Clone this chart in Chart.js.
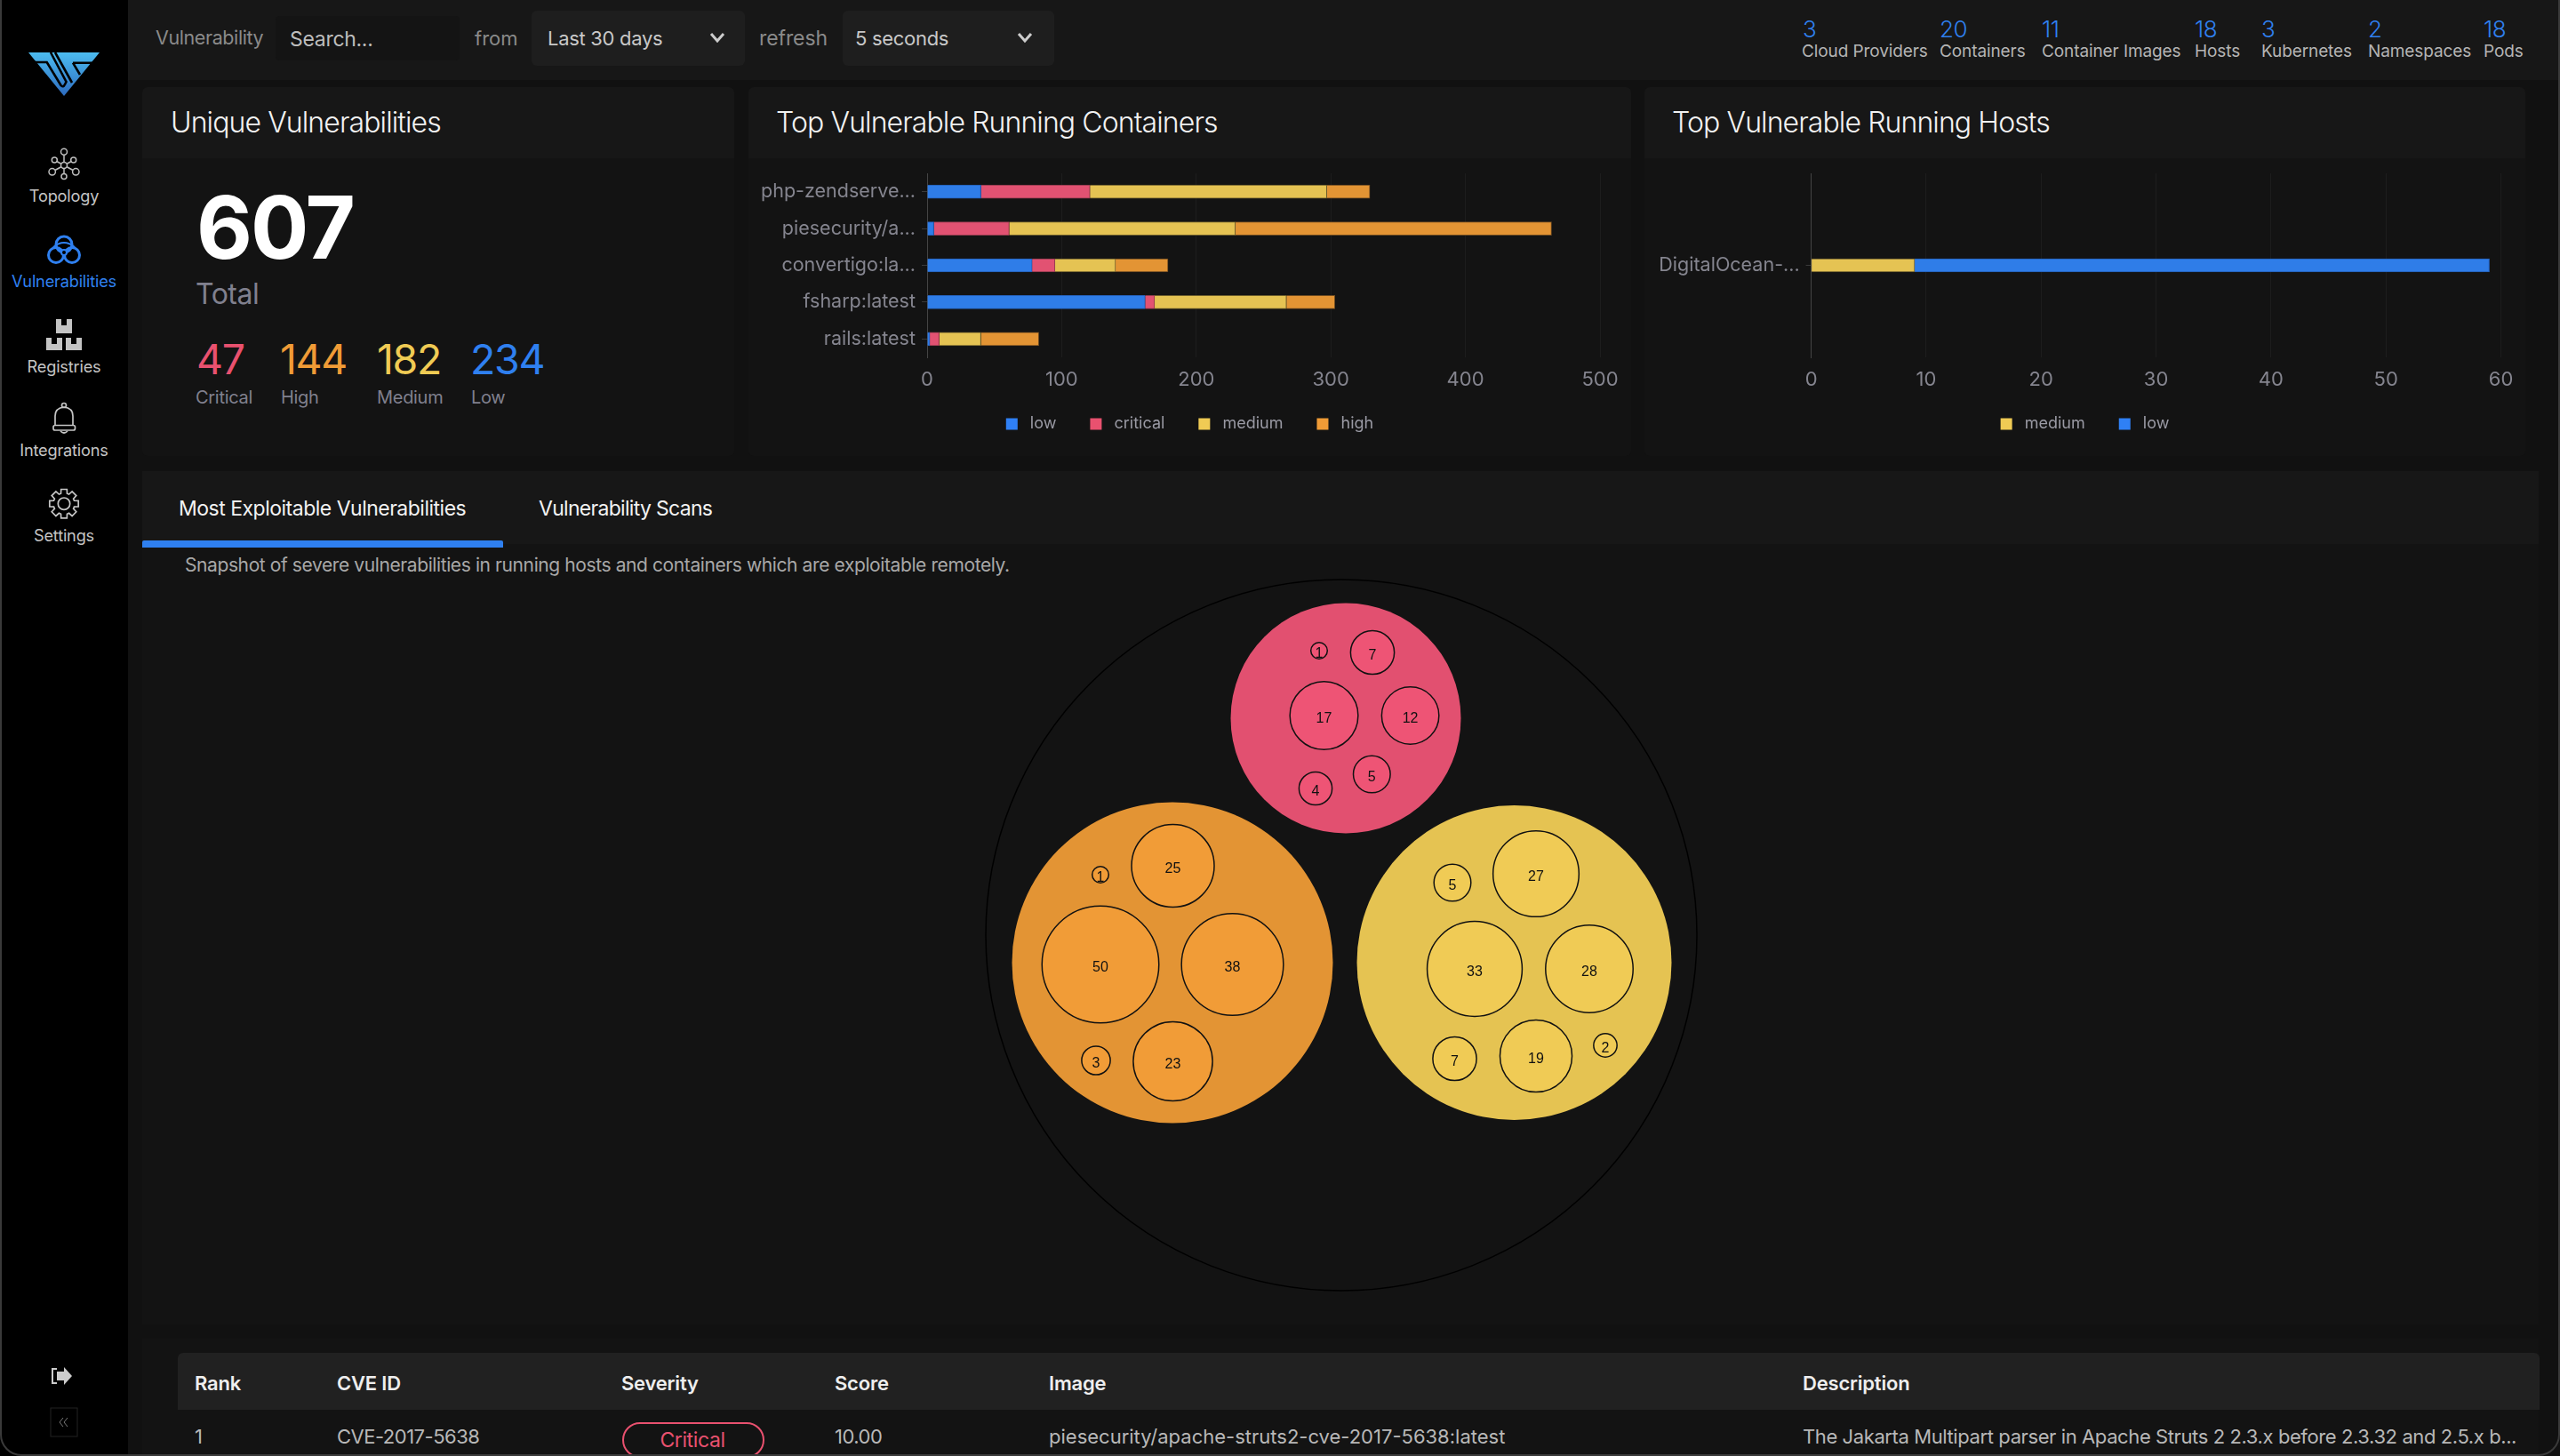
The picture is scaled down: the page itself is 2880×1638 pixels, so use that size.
<!DOCTYPE html>
<html>
<head>
<meta charset="utf-8">
<title>Vulnerabilities</title>
<script src="https://cdn.jsdelivr.net/npm/chart.js@4"></script>
<style>
  html, body { margin: 0; padding: 0; width: 2880px; height: 1638px; overflow: hidden; background: #111; font-family: Inter, sans-serif; }
  .box { position: absolute; }
  .t { position: absolute; white-space: nowrap; transform: translateY(-50%); line-height: 1; }
  canvas { position: absolute; }
  .side { color: #c4c4c4; font-size: 18.2px; left: 0; width: 144px; text-align: center; letter-spacing: -0.2px; }
  .num { color: #2f80f0; font-size: 26px; font-weight: 300; letter-spacing: -0.5px; }
  .lbl { color: #b4b4b4; font-size: 19px; letter-spacing: -0.1px; }
  .title { color: #f2f2f2; font-size: 32px; font-weight: 300; letter-spacing: -0.9px; top: 138px; }
  .sev { font-size: 46.5px; top: 404px; letter-spacing: -1.3px; }
  .sevl { font-size: 20px; top: 447px; color: #80808e; letter-spacing: -0.3px; }
  .th { color: #eee; font-size: 22px; font-weight: 600; top: 1556px; letter-spacing: -0.2px; }
  .td { color: #b8b8b8; font-size: 22px; top: 1616px; letter-spacing: -0.5px; }
</style>
</head>
<body>
<!-- sidebar -->
<div class="box" style="left:0;top:0;width:144px;height:1638px;background:#000"></div>
<svg class="box" style="left:0;top:0" width="144" height="640" fill="none">
  <defs><linearGradient id="logo" x1="0" y1="59" x2="0" y2="108" gradientUnits="userSpaceOnUse">
    <stop offset="0" stop-color="#4cbcf0"/><stop offset="1" stop-color="#2d6cc0"/></linearGradient></defs>
  <polygon points="32,59 112,59 72,108" fill="url(#logo)"/>
  <path d="M38.7 70 H52.7 L68.5 96 Q71 99 73 95 L74.5 92 L57 59 M62 59 L81 93 M82 70.7 H104 M82 70.7 L90 84" stroke="#000" stroke-width="2.6"/>
  <g stroke="#bdbdbd" stroke-width="1.5">
    <path d="M72 174 V196 M61 180 L83 192 M83 180 L61 192 M72 186 L59 193 M72 186 L85 193"/>
    <circle cx="72" cy="186" r="3.5" fill="#000"/><circle cx="72" cy="170.7" r="3.5" fill="#000"/><circle cx="72" cy="198.5" r="3" fill="#000"/>
    <circle cx="61.3" cy="180" r="3" fill="#000"/><circle cx="82.7" cy="180" r="3" fill="#000"/>
    <circle cx="58.7" cy="193.3" r="3.7" fill="#000"/><circle cx="85.3" cy="193.3" r="3.7" fill="#000"/>
  </g>
  <g stroke="#2f80f0" stroke-width="3">
    <circle cx="72" cy="275" r="9"/><circle cx="63" cy="287" r="8.5"/><circle cx="81" cy="287" r="8.5"/>
    <circle cx="72" cy="284" r="3" fill="#000" stroke-width="2"/>
    <path d="M60 278 Q72 268 84 278" stroke-width="2"/>
  </g>
  <g fill="#c4c4c4">
    <path d="M63 359 H69 V366 H75 V359 H81 V375 H63 Z"/>
    <path d="M52 380 H58 V387 H64 V380 H70 V394 H52 Z"/>
    <path d="M74 380 H80 V387 H86 V380 H92 V394 H74 Z"/>
  </g>
  <g stroke="#c4c4c4" stroke-width="1.7">
    <path d="M62 478 V468 Q62 459 72 458 Q82 459 82 468 V478"/>
    <rect x="60" y="478.5" width="24.5" height="5.5" rx="2"/>
    <circle cx="72" cy="456" r="2.5"/>
    <path d="M68 485 Q72 489 76 485"/>
    <circle cx="72" cy="566.7" r="6.7"/>
    <path id="gear"/>
  </g>
</svg>
<div class="t side" style="top:220px">Topology</div>
<div class="t side" style="top:316px;color:#2f80f0">Vulnerabilities</div>
<div class="t side" style="top:412px">Registries</div>
<div class="t side" style="top:506px">Integrations</div>
<div class="t side" style="top:602px">Settings</div>
<svg class="box" style="left:56px;top:1535px" width="32" height="84" fill="none">
  <path d="M8 5 H3 V21 H8" stroke="#ccc" stroke-width="2"/>
  <path d="M8 8 H16 V3 L25 13 L16 23 V18 H8 Z" fill="#ccc"/>
  <rect x="1" y="49" width="30" height="32" stroke="#222" stroke-width="1"/>
  <path d="M15 60 L11 65 L15 70 M20 60 L16 65 L20 70" stroke="#777" stroke-width="1"/>
</svg>

<!-- top bar -->
<div class="box" style="left:144px;top:0;width:2736px;height:90px;background:#171717"></div>
<div class="t" style="left:175px;top:43px;font-size:21.5px;color:#8a8a8a;letter-spacing:-0.4px">Vulnerability</div>
<div class="box" style="left:310px;top:18px;width:207px;height:50px;background:#141414;border-radius:4px"></div>
<div class="t" style="left:326px;top:44px;font-size:23px;color:#bdbdbd;letter-spacing:-0.3px">Search...</div>
<div class="t" style="left:534px;top:43px;font-size:22px;color:#8a8a8a">from</div>
<div class="box" style="left:598px;top:12px;width:240px;height:62px;background:#1e1e1e;border-radius:6px"></div>
<div class="t" style="left:616px;top:43px;font-size:22px;color:#c8c8c8;letter-spacing:-0.3px">Last 30 days</div>
<div class="t" style="left:854px;top:43px;font-size:23px;color:#8a8a8a;letter-spacing:-0.1px">refresh</div>
<div class="box" style="left:948px;top:12px;width:238px;height:62px;background:#1e1e1e;border-radius:6px"></div>
<div class="t" style="left:962px;top:43px;font-size:22px;color:#c8c8c8;letter-spacing:-0.3px">5 seconds</div>
<svg class="box" style="left:0;top:0" width="1200" height="90" fill="none" stroke="#ccc" stroke-width="3">
  <path d="M800 38 L807 46 L814 38 M1146 38 L1153 46 L1160 38"/>
</svg>

<div class="t num" style="left:2028px;top:33px">3</div><div class="t lbl" style="left:2027px;top:57px">Cloud Providers</div>
<div class="t num" style="left:2182px;top:33px">20</div><div class="t lbl" style="left:2182px;top:57px">Containers</div>
<div class="t num" style="left:2297px;top:33px">11</div><div class="t lbl" style="left:2297px;top:57px">Container Images</div>
<div class="t num" style="left:2469px;top:33px">18</div><div class="t lbl" style="left:2469px;top:57px">Hosts</div>
<div class="t num" style="left:2544px;top:33px">3</div><div class="t lbl" style="left:2544px;top:57px">Kubernetes</div>
<div class="t num" style="left:2664px;top:33px">2</div><div class="t lbl" style="left:2664px;top:57px">Namespaces</div>
<div class="t num" style="left:2794px;top:33px">18</div><div class="t lbl" style="left:2794px;top:57px">Pods</div>

<!-- cards -->
<div class="box" style="left:160px;top:98px;width:666px;height:415px;background:#131313;border-radius:6px"></div>
<div class="box" style="left:160px;top:98px;width:666px;height:80px;background:#171717;border-radius:6px 6px 0 0"></div>
<div class="box" style="left:842px;top:98px;width:993px;height:415px;background:#131313;border-radius:6px"></div>
<div class="box" style="left:842px;top:98px;width:993px;height:80px;background:#171717;border-radius:6px 6px 0 0"></div>
<div class="box" style="left:1850px;top:98px;width:991px;height:415px;background:#131313;border-radius:6px"></div>
<div class="box" style="left:1850px;top:98px;width:991px;height:80px;background:#171717;border-radius:6px 6px 0 0"></div>
<div class="t title" style="left:192px">Unique Vulnerabilities</div>
<div class="t title" style="left:873px">Top Vulnerable Running Containers</div>
<div class="t title" style="left:1881px">Top Vulnerable Running Hosts</div>

<div class="t" style="left:221px;top:255px;font-size:97px;font-weight:700;color:#fff;letter-spacing:-2px">607</div>
<div class="t" style="left:220px;top:331px;font-size:32px;color:#80808e;letter-spacing:-0.5px">Total</div>
<div class="t sev" style="left:221px;color:#e9516f">47</div><div class="t sevl" style="left:220px">Critical</div>
<div class="t sev" style="left:315px;color:#f09b36">144</div><div class="t sevl" style="left:316px">High</div>
<div class="t sev" style="left:424px;color:#f0cb54">182</div><div class="t sevl" style="left:424px">Medium</div>
<div class="t sev" style="left:529px;color:#2f80f0">234</div><div class="t sevl" style="left:530px">Low</div>

<canvas id="containersChart" width="993" height="335" style="left:842px;top:178px"></canvas>
<canvas id="hostsChart" width="991" height="335" style="left:1850px;top:178px"></canvas>

<!-- tabs panel -->
<div class="box" style="left:160px;top:530px;width:2696px;height:960px;background:#131313"></div>
<div class="box" style="left:160px;top:530px;width:2696px;height:82px;background:#171717"></div>
<div class="box" style="left:160px;top:608px;width:406px;height:8px;background:#2f80f0;border-radius:2px 2px 0 0"></div>
<div class="t" style="left:201px;top:572px;font-size:23px;color:#f2f2f2;letter-spacing:-0.5px">Most Exploitable Vulnerabilities</div>
<div class="t" style="left:606px;top:572px;font-size:23px;color:#f2f2f2;letter-spacing:-0.7px">Vulnerability Scans</div>
<div class="t" style="left:208px;top:635px;font-size:21px;color:#a8a8a8;letter-spacing:-0.4px">Snapshot of severe vulnerabilities in running hosts and containers which are exploitable remotely.</div>
<canvas id="bubbleChart" width="860" height="840" style="left:1079px;top:632px"></canvas>

<!-- table -->
<div class="box" style="left:160px;top:1506px;width:2696px;height:132px;background:#131313"></div>
<div class="box" style="left:200px;top:1522px;width:2657px;height:64px;background:#212121;border-radius:6px 6px 0 0"></div>
<div class="t th" style="left:219px">Rank</div>
<div class="t th" style="left:379px">CVE ID</div>
<div class="t th" style="left:699px">Severity</div>
<div class="t th" style="left:939px">Score</div>
<div class="t th" style="left:1180px">Image</div>
<div class="t th" style="left:2028px">Description</div>
<div class="t td" style="left:219px">1</div>
<div class="t td" style="left:379px">CVE-2017-5638</div>
<div class="box" style="left:700px;top:1600px;width:160px;height:40px;border:2px solid #e9516f;border-radius:21px;box-sizing:border-box"></div>
<div class="t" style="left:779px;top:1620px;font-size:23px;color:#e9516f;transform:translate(-50%,-50%);letter-spacing:-0.4px">Critical</div>
<div class="t td" style="left:939px">10.00</div>
<div class="t td" style="left:1180px;letter-spacing:0">piesecurity/apache-struts2-cve-2017-5638:latest</div>
<div class="t td" style="left:2028px;letter-spacing:-0.4px">The Jakarta Multipart parser in Apache Struts 2 2.3.x before 2.3.32 and 2.5.x b...</div>

<!-- window frame -->
<div class="box" style="left:0;top:-30px;width:2880px;height:1668px;box-sizing:border-box;border:2px solid #3a3a3a;border-radius:24px;pointer-events:none"></div>

<script>
// Top Vulnerable Running Containers
const containerLabels = ['php-zendserve...', 'piesecurity/a...', 'convertigo:la...', 'fsharp:latest', 'rails:latest'];
const containerLow = [40, 5, 78, 162, 2];
const containerCritical = [81, 56, 17, 7, 7];
const containerMedium = [176, 168, 45, 98, 31];
const containerHigh = [32, 235, 39, 36, 43];
const containerTicks = [0, 100, 200, 300, 400, 500];

// Top Vulnerable Running Hosts
const hostLabels = ['DigitalOcean-...'];
const hostMedium = [9];
const hostLow = [50];
const hostTicks = [0, 10, 20, 30, 40, 50, 60];

// Most exploitable vulnerabilities, packed around the centre of the big ring
const severityX = [5, -190, 194.5];
const severityY = [-244, 31, 31];
const severityR = [129.5, 180.5, 177];
const criticalValues = [1, 7, 17, 12, 5, 4];
const criticalX = [-25, 35, -19.5, 77.6, 34.3, -29];
const criticalY = [-320, -318, -247, -247, -181, -165];
const highValues = [1, 25, 50, 38, 3, 23];
const highX = [-271, -189.5, -271, -122.5, -276, -189.5];
const highY = [-68, -78, 33, 33, 141, 142];
const mediumValues = [5, 27, 33, 28, 7, 19, 2];
const mediumX = [125, 219, 150, 279, 127.5, 219, 297];
const mediumY = [-59, -69, 38, 38, 139, 136, 124];

const COLORS = {
    low: { bar: '#2f7de8', edge: '#2560b8', key: '#2f80f5' },
    critical: { bar: '#e25272', edge: '#8f3a4c', key: '#e9516f' },
    medium: { bar: '#e5c353', edge: '#6e5f2c', key: '#f0cb54' },
    high: { bar: '#e39434', edge: '#6e4a20', key: '#f09b36' }
};
const TICK_COLOR = '#85858f';

// gear outline for the settings icon
(function() {
    const pts = [];
    for (let i = 0; i < 8; i++) {
        const a = i * Math.PI / 4;
        [[-0.3, 12], [-0.2, 16.5], [0.2, 16.5], [0.3, 12]].forEach(p => {
            pts.push((72 + p[1] * Math.cos(a + p[0])).toFixed(1) + ' ' + (566.7 + p[1] * Math.sin(a + p[0])).toFixed(1));
        });
    }
    document.getElementById('gear').setAttribute('d', 'M' + pts.join(' L') + ' Z');
})();

function barDataset(name, values) {
    return {
        label: name,
        data: values,
        backgroundColor: COLORS[name].bar,
        borderColor: COLORS[name].edge,
        borderWidth: 1,
        barThickness: 15
    };
}

// puts the legend back under the plot: padding would otherwise push it off-centre and low
const legendPlace = {
    id: 'legendPlace',
    afterLayout(chart) {
        const shift = chart.options.layout.padding.right / 2;
        chart.legend.left += shift;
        chart.legend.right += shift;
        chart.legend.top -= 10;
        chart.legend.bottom -= 10;
    }
};

function stackedBars(id, labels, datasets, ticks, yWidth, rightPad) {
    return new Chart(document.getElementById(id), {
        type: 'bar',
        data: { labels: labels, datasets: datasets },
        plugins: [legendPlace],
        options: {
            indexAxis: 'y',
            responsive: false,
            animation: false,
            layout: { autoPadding: false, padding: { top: 17, right: rightPad, bottom: 7 } },
            plugins: {
                tooltip: { enabled: false },
                legend: {
                    position: 'bottom',
                    labels: {
                        color: '#9a9aa4',
                        font: { family: 'Inter', size: 18 },
                        boxWidth: 13,
                        boxHeight: 13,
                        padding: 38,
                        generateLabels: function(chart) {
                            return chart.data.datasets.map((ds, i) => ({
                                text: ' ' + ds.label,
                                fontColor: '#9a9aa4',
                                fillStyle: COLORS[ds.label].key,
                                strokeStyle: 'transparent',
                                lineWidth: 0,
                                datasetIndex: i
                            }));
                        }
                    }
                }
            },
            scales: {
                x: {
                    stacked: true,
                    min: ticks[0],
                    max: ticks[ticks.length - 1],
                    afterBuildTicks: function(scale) {
                        scale.ticks = ticks.map(v => ({ value: v }));
                    },
                    afterFit: function(scale) { scale.height = 38; },
                    grid: { color: '#1d1d1d', drawTicks: false },
                    border: { display: false },
                    ticks: { color: TICK_COLOR, padding: 12, maxRotation: 0, font: { family: 'Inter', size: 22 } }
                },
                y: {
                    stacked: true,
                    afterFit: function(scale) {
                        scale.width = yWidth;
                        scale.paddingTop = 0;
                        scale.paddingBottom = 0;
                    },
                    grid: { drawOnChartArea: false, offset: false, tickColor: '#3a3a3a', tickLength: 6 },
                    border: { color: '#444' },
                    ticks: { color: TICK_COLOR, padding: 7, font: { family: 'Inter', size: 21.5 } }
                }
            }
        }
    });
}

stackedBars('containersChart', containerLabels, [
    barDataset('low', containerLow),
    barDataset('critical', containerCritical),
    barDataset('medium', containerMedium),
    barDataset('high', containerHigh)
], containerTicks, 201, 35);

stackedBars('hostsChart', hostLabels, [
    barDataset('medium', hostMedium),
    barDataset('low', hostLow)
], hostTicks, 187.6, 27.5);

// bubble area follows the value
const BUBBLE_K = 9.3;
function innerBubbles(values, xs, ys, fill) {
    return {
        data: values.map((v, i) => ({ x: xs[i], y: ys[i], r: BUBBLE_K * Math.sqrt(v), value: v })),
        backgroundColor: fill,
        borderColor: '#111',
        borderWidth: 1.5
    };
}

const bubbleLabels = {
    id: 'bubbleLabels',
    afterDatasetsDraw(chart) {
        const ctx = chart.ctx;
        ctx.save();
        ctx.font = "16px 'Liberation Sans'";
        ctx.fillStyle = '#111';
        ctx.textAlign = 'center';
        ctx.textBaseline = 'middle';
        chart.data.datasets.forEach((ds, i) => {
            chart.getDatasetMeta(i).data.forEach((el, j) => {
                const v = ds.data[j].value;
                if (v !== undefined) ctx.fillText(v, el.x, el.y + 4);
            });
        });
        ctx.restore();
    }
};

new Chart(document.getElementById('bubbleChart'), {
    type: 'bubble',
    data: {
        datasets: [
            innerBubbles(criticalValues, criticalX, criticalY, '#ee5475'),
            innerBubbles(highValues, highX, highY, '#f19c37'),
            innerBubbles(mediumValues, mediumX, mediumY, '#f0cb55'),
            {
                data: severityX.map((x, i) => ({ x: x, y: severityY[i], r: severityR[i] })),
                backgroundColor: ['#e25070', '#e39434', '#e5c352'],
                borderWidth: 0
            },
            {
                data: [{ x: 0, y: 0, r: 400 }],
                backgroundColor: 'transparent',
                borderColor: '#000',
                borderWidth: 1.5
            }
        ]
    },
    options: {
        responsive: false,
        animation: false,
        layout: { autoPadding: false },
        plugins: { legend: { display: false }, tooltip: { enabled: false } },
        scales: {
            x: { display: false, min: -430, max: 430 },
            y: { display: false, min: -420, max: 420, reverse: true }
        }
    },
    plugins: [bubbleLabels]
});
</script>
</body>
</html>
